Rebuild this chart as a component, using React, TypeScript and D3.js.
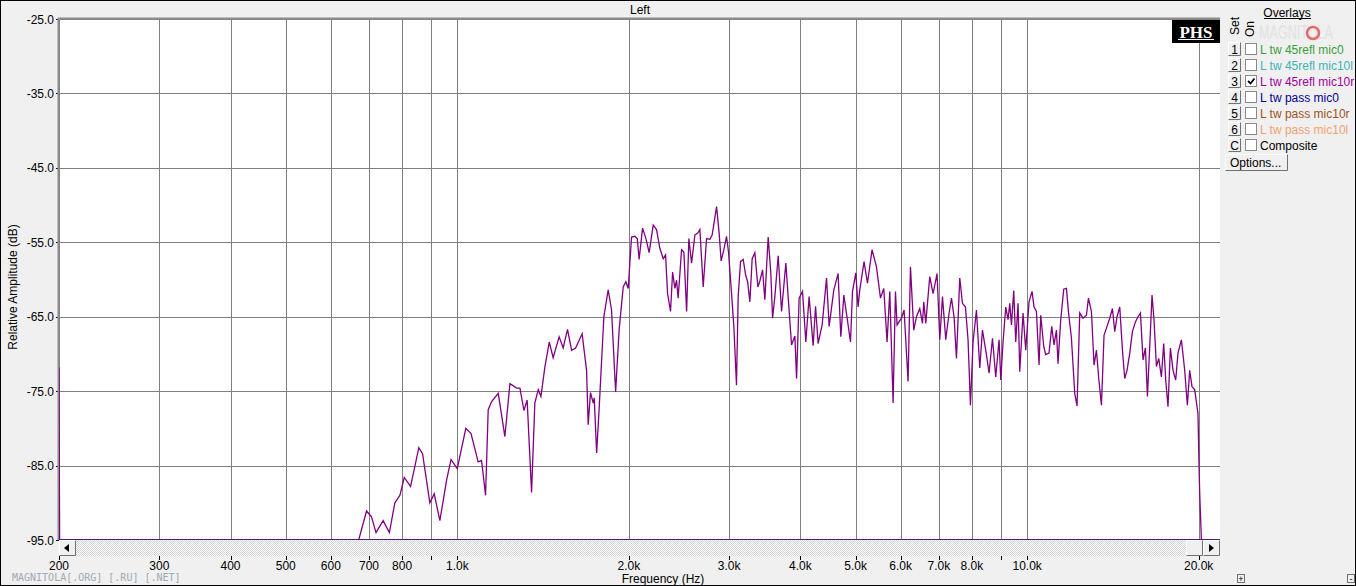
import React from 'react';
import * as d3 from 'd3';

const W = 1356;
const H = 586;

// measured response, overlay 3 (frequency Hz, level dB)
const curve: [number, number][] = [
  [200, -71.8], [200.5, -95], [670, -95], [672, -94.9], [693, -91.1], [707, -91.9], [720, -94.0], [741, -92.4],
  [760, -94.0], [777, -90.0], [793, -89.0], [807, -86.6], [828, -87.8], [856, -82.6], [869, -83.4], [895, -90.0],
  [911, -88.8], [932, -92.4], [958, -86.9], [975, -84.2], [1000, -85.4], [1035, -80.0], [1057, -80.7], [1088, -84.5],
  [1103, -84.3], [1121, -89.0], [1133, -77.5], [1149, -76.4], [1180, -75.3], [1212, -81.1], [1237, -74.0], [1271, -74.6],
  [1288, -74.6], [1309, -77.6], [1326, -76.2], [1350, -88.6], [1368, -76.6], [1387, -74.8], [1402, -75.7], [1425, -71.7],
  [1450, -68.4], [1473, -70.5], [1509, -67.7], [1534, -69.2], [1561, -66.7], [1587, -69.5], [1613, -69.2], [1656, -67.3],
  [1686, -72.2], [1697, -79.5], [1713, -75.2], [1732, -76.6], [1739, -75.9], [1756, -83.3], [1774, -77.3], [1808, -65.0],
  [1840, -61.4], [1865, -64.1], [1896, -75.1], [1923, -66.8], [1955, -61.0], [1976, -60.3], [1995, -61.2], [2022, -54.3],
  [2049, -54.2], [2069, -54.5], [2085, -57.3], [2114, -53.1], [2143, -54.5], [2171, -56.4], [2207, -52.7], [2237, -53.3],
  [2267, -55.8], [2298, -57.2], [2320, -56.7], [2339, -61.9], [2367, -64.3], [2387, -59.0], [2409, -61.2], [2425, -60.1],
  [2441, -62.5], [2475, -56.0], [2498, -56.3], [2526, -64.3], [2549, -54.5], [2577, -57.8], [2612, -54.0], [2640, -53.8],
  [2665, -53.3], [2701, -61.0], [2738, -54.5], [2775, -54.6], [2801, -54.0], [2851, -50.2], [2881, -53.8], [2904, -57.5],
  [2936, -56.0], [2968, -54.2], [2992, -56.3], [3029, -61.9], [3057, -66.3], [3090, -74.2], [3111, -62.3], [3141, -57.6],
  [3175, -57.3], [3206, -59.4], [3232, -60.3], [3262, -63.0], [3292, -57.2], [3328, -56.4], [3369, -61.0], [3396, -60.2],
  [3433, -58.7], [3465, -62.7], [3512, -54.3], [3550, -59.2], [3575, -65.2], [3608, -62.3], [3657, -56.8], [3707, -64.3],
  [3772, -57.8], [3807, -62.3], [3860, -68.8], [3912, -67.6], [3939, -73.3], [3980, -62.5], [4035, -61.6], [4089, -68.4],
  [4144, -62.3], [4212, -68.9], [4253, -63.6], [4297, -68.6], [4368, -66.1], [4446, -59.8], [4493, -66.3], [4579, -61.4],
  [4659, -59.2], [4710, -67.7], [4768, -62.1], [4832, -65.2], [4898, -68.4], [4938, -61.6], [5004, -59.1], [5050, -63.7],
  [5085, -61.4], [5174, -57.6], [5246, -60.5], [5344, -56.0], [5440, -58.3], [5529, -62.5], [5603, -61.2], [5678, -68.4],
  [5741, -61.6], [5818, -76.6], [5874, -61.6], [5912, -66.1], [6018, -65.2], [6082, -64.1], [6181, -73.7], [6241, -58.3],
  [6325, -66.8], [6394, -65.0], [6480, -63.9], [6551, -65.9], [6586, -63.0], [6639, -65.9], [6747, -59.6], [6838, -61.9],
  [6949, -59.2], [7026, -68.1], [7103, -62.3], [7198, -68.1], [7295, -64.5], [7366, -62.5], [7443, -65.0], [7516, -70.6],
  [7617, -59.8], [7700, -63.2], [7794, -63.7], [7876, -68.1], [7953, -76.9], [8037, -68.4], [8148, -64.1], [8258, -71.9],
  [8348, -66.8], [8484, -70.1], [8574, -72.6], [8693, -67.9], [8809, -73.1], [8928, -68.1], [8989, -73.5], [9073, -68.4],
  [9172, -63.7], [9258, -65.4], [9322, -63.2], [9386, -66.1], [9473, -61.5], [9550, -68.4], [9640, -63.2], [9706, -72.4],
  [9836, -64.5], [9944, -69.5], [10077, -63.0], [10200, -61.6], [10283, -63.7], [10383, -64.3], [10493, -71.5], [10565, -64.8],
  [10694, -69.0], [10780, -70.1], [10925, -69.9], [11045, -66.3], [11148, -68.8], [11257, -66.8], [11330, -71.3], [11454, -65.4],
  [11594, -61.3], [11721, -61.2], [11816, -64.3], [11960, -67.9], [12121, -75.3], [12234, -77.0], [12368, -64.5], [12534, -65.2],
  [12707, -64.8], [12811, -62.5], [12967, -64.3], [13104, -71.5], [13232, -69.5], [13355, -73.3], [13502, -76.9], [13644, -67.5],
  [13811, -66.3], [13963, -65.2], [14116, -63.9], [14248, -67.0], [14380, -65.0], [14538, -63.7], [14698, -69.5], [14835, -73.3],
  [14973, -72.2], [15138, -69.9], [15303, -67.0], [15490, -65.7], [15653, -65.0], [15806, -64.5], [15973, -70.8], [16128, -69.2],
  [16259, -75.7], [16411, -69.0], [16564, -62.1], [16698, -65.4], [16861, -71.7], [17018, -70.6], [17204, -73.1], [17365, -68.6],
  [17506, -73.5], [17669, -77.1], [17841, -69.2], [18029, -72.2], [18227, -73.5], [18397, -69.9], [18651, -68.1], [18901, -72.2],
  [19108, -76.9], [19287, -72.2], [19467, -74.4], [19680, -74.8], [19944, -78.0], [20025, -84.7], [20082, -88.7], [20220, -94.9],
  [20300, -95], [21800, -95],
];

const freqGrid = [200, 300, 400, 500, 600, 700, 800, 900, 1000, 2000, 3000, 4000, 5000, 6000, 7000, 8000, 9000, 10000, 20000];
const freqLabels = ['200', '300', '400', '500', '600', '700', '800', '', '1.0k', '2.0k', '3.0k', '4.0k', '5.0k', '6.0k', '7.0k', '8.0k', '', '10.0k', '20.0k'];
const dbTicks = [-25, -35, -45, -55, -65, -75, -85, -95];

const overlaySets = ['1', '2', '3', '4', '5', '6', 'C'];
const overlayNames = ['L tw 45refl mic0', 'L tw 45refl mic10l', 'L tw 45refl mic10r', 'L tw pass mic0', 'L tw pass mic10r', 'L tw pass mic10l', 'Composite'];
const overlayColors = ['#36a036', '#3cb4b4', '#a000a0', '#000090', '#a0521e', '#f4a070', '#000000'];
const overlayOn = [false, false, true, false, false, false, false];

const FONT = '"Liberation Sans", Arial, sans-serif';

const plot = { left: 59, top: 19, right: 1220, bottom: 540 };

const x = d3.scaleLog().domain([200, 21800]).range([plot.left, plot.right]);
const y = d3.scaleLinear().domain([-95, -25]).range([plot.bottom, plot.top]);

const line = d3.line<[number, number]>()
  .x(d => x(d[0]))
  .y(d => y(d[1]));

const px = (v: number) => Math.round(v) + 0.5;

// raised windows-style button
const Btn = ({ x0, y0, w, h }: { x0: number; y0: number; w: number; h: number }) => (
  <g>
    <rect x={x0} y={y0} width={w} height={h} fill="#f0f0f0" />
    <path d={`M${x0 + 0.5},${y0 + h - 0.5} V${y0 + 0.5} H${x0 + w - 0.5}`} stroke="#ffffff" fill="none" />
    <path d={`M${x0 + 0.5},${y0 + h - 0.5} H${x0 + w - 0.5} V${y0 + 0.5}`} stroke="#707070" fill="none" />
  </g>
);

export default function App() {
  return (
    <svg width={W} height={H} style={{ position: 'absolute', left: 0, top: 0, display: 'block' }} fontFamily={FONT}>
      <defs>
        <clipPath id="plotClip">
          <rect x={plot.left} y={plot.top} width={plot.right - plot.left} height={plot.bottom - plot.top + 1} />
        </clipPath>
        <pattern id="hatch" width="2" height="2" patternUnits="userSpaceOnUse">
          <rect width="2" height="2" fill="#ffffff" />
          <rect width="1" height="1" fill="#d4d4d4" />
          <rect x="1" y="1" width="1" height="1" fill="#d4d4d4" />
        </pattern>
      </defs>

      <rect x={0} y={0} width={W} height={H} fill="#f0f0f0" />
      <rect x={0.5} y={0.5} width={W - 1} height={H - 1} fill="none" stroke="#000" />

      <text x={640} y={14} fontSize={12} textAnchor="middle" fill="#000">Left</text>

      {/* plot area */}
      <rect x={plot.left} y={plot.top} width={plot.right - plot.left} height={plot.bottom - plot.top} fill="#ffffff" />

      {dbTicks.map(v => (
        <g key={v}>
          <line x1={plot.left} x2={plot.right} y1={px(y(v))} y2={px(y(v))} stroke="#808080" />
          <line x1={56} x2={plot.left} y1={px(y(v))} y2={px(y(v))} stroke="#000" />
          <text x={54} y={y(v) + 4.5} fontSize={12} textAnchor="end" fill="#000">{v.toFixed(1)}</text>
        </g>
      ))}

      {freqGrid.map((f, i) => (
        <g key={f}>
          <line x1={px(x(f))} x2={px(x(f))} y1={plot.top} y2={plot.bottom} stroke="#808080" />
          <line x1={px(x(f))} x2={px(x(f))} y1={556} y2={560} stroke="#000" />
          {freqLabels[i] && (
            <text x={x(f)} y={570} fontSize={12} textAnchor="middle" fill="#000">{freqLabels[i]}</text>
          )}
        </g>
      ))}

      {/* thick left/top frame */}
      <line x1={plot.left - 0.5} x2={plot.left - 0.5} y1={plot.top - 1} y2={plot.bottom} stroke="#8c8c8c" strokeWidth={2} />
      <line x1={plot.left - 1} x2={plot.right} y1={plot.top - 0.5} y2={plot.top - 0.5} stroke="#8c8c8c" strokeWidth={2} />

      <path d={line(curve) || ''} fill="none" stroke="#800080" strokeWidth={1.3} clipPath="url(#plotClip)" />

      {/* PHS badge */}
      <rect x={1172} y={20} width={48} height={23} fill="#000" />
      <text x={1196} y={38} fontSize={17} fontWeight="bold" textAnchor="middle" fill="#fff" fontFamily='"Liberation Serif", "Times New Roman", serif'>PHS</text>
      <line x1={1178} x2={1214} y1={39.5} y2={39.5} stroke="#fff" />

      {/* scrollbar */}
      <rect x={plot.left} y={540} width={plot.right - plot.left} height={16} fill="url(#hatch)" />
      <Btn x0={59} y0={540} w={17} h={16} />
      <path d="M64,548 L69,544 L69,552 Z" fill="#000" />
      <Btn x0={1186} y0={540} w={17} h={16} />
      <Btn x0={1203} y0={540} w={17} h={16} />
      <path d="M1214,548 L1209,544 L1209,552 Z" fill="#000" />
      <line x1={plot.left} x2={plot.right} y1={539.5} y2={539.5} stroke="#4b1a7a" />

      <text x={663} y={583} fontSize={12} textAnchor="middle" fill="#000">Frequency (Hz)</text>
      <text transform="translate(17,287) rotate(-90)" fontSize={12} textAnchor="middle" fill="#000">Relative Amplitude (dB)</text>

      <text x={12} y={581} fontSize={10} fill="#a0a8b0" fontFamily='"DejaVu Sans Mono", monospace'>MAGNITOLA[.ORG] [.RU] [.NET]</text>

      {/* overlay panel */}
      <text x={1259} y={39} fontSize={20} fill="#e2e2e2" textLength={74} lengthAdjust="spacingAndGlyphs">MAGNITOLA</text>
      <circle cx={1313} cy={33} r={6} fill="none" stroke="#e36a6a" strokeWidth={2.5} />
      <text x={1287} y={17} fontSize={12} textAnchor="middle" fill="#000">Overlays</text>
      <line x1={1264} x2={1311} y1={18.5} y2={18.5} stroke="#000" />
      <text transform="translate(1239,35) rotate(-90)" fontSize={12} fill="#000">Set</text>
      <text transform="translate(1254,37) rotate(-90)" fontSize={12} fill="#000">On</text>

      {overlaySets.map((s, i) => {
        const yy = 42 + i * 16;
        return (
          <g key={s}>
            <Btn x0={1228} y0={yy} w={13} h={14} />
            <text x={1234.5} y={yy + 11.5} fontSize={12} textAnchor="middle" fill="#000">{s}</text>
            <rect x={1245.5} y={yy + 1.5} width={11} height={11} fill="#fff" stroke="#8a8a8a" />
            {overlayOn[i] && (
              <path d={`M${1248},${yy + 7} L${1250.5},${yy + 9.5} L${1254.5},${yy + 4.5}`} fill="none" stroke="#000" strokeWidth={1.8} />
            )}
            <text x={1260} y={yy + 11.5} fontSize={12} fill={overlayColors[i]}>{overlayNames[i]}</text>
          </g>
        );
      })}

      <Btn x0={1225} y0={154} w={63} h={17} />
      <text x={1230} y={167} fontSize={12} fill="#000">Options...</text>

      {/* zoom buttons bottom right */}
      <rect x={1237.5} y={574.5} width={7} height={8} fill="#f0f0f0" stroke="#707070" />
      <text x={1241} y={582} fontSize={9} textAnchor="middle" fill="#000">+</text>
      <rect x={1347.5} y={574.5} width={7} height={8} fill="#f0f0f0" stroke="#707070" />
      <text x={1351} y={582} fontSize={9} textAnchor="middle" fill="#000">-</text>
    </svg>
  );
}
